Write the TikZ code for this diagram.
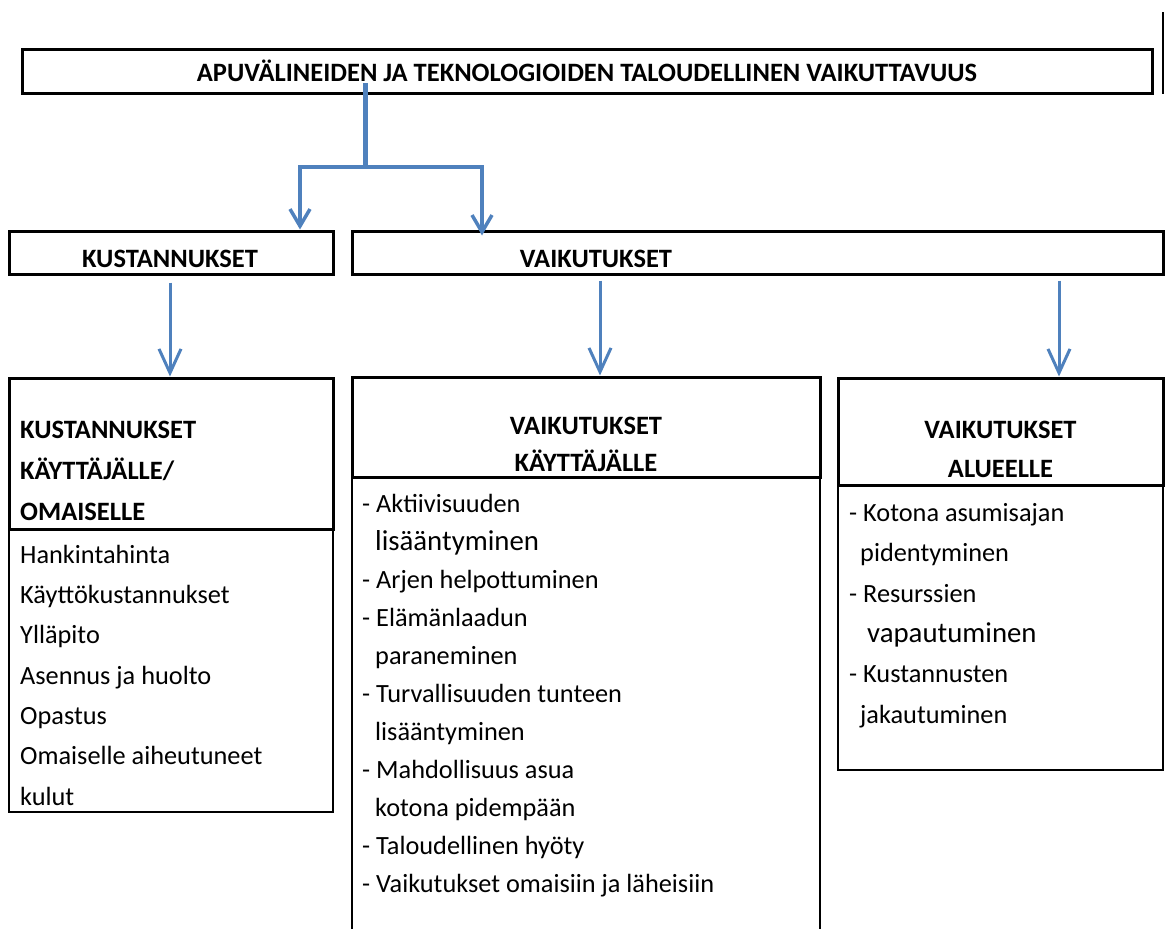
\documentclass[tikz,border=0pt]{standalone}
\usepackage{fontspec}
\setmainfont{Carlito}
\usetikzlibrary{arrows.meta,positioning}
\definecolor{arrblue}{RGB}{79,129,189}
\newcommand{\ind}{\hspace*{13pt}}
\begin{document}
\begin{tikzpicture}[x=1pt,y=-1pt,
  box/.style={draw,line width=3pt,inner sep=0},
  listbox/.style={draw,line width=1.7pt,inner sep=0},
  head/.style={font=\bfseries\fontsize{26.5}{41}\selectfont,inner sep=0},
  item/.style={font=\fontsize{26.3}{40.3}\selectfont,align=left,inner sep=0,anchor=base west},
  arr/.style={draw=arrblue,line width=3pt,-{Straight Barb[length=24pt,width=22pt]}},
  branch/.style={draw=arrblue,line width=3.5pt,-{Straight Barb[length=17pt,width=20pt]}}]
\useasboundingbox (0,0) rectangle (1165,929);
\clip (0,0) rectangle (1165,929);
% top row
\node[box,minimum width=1130pt,minimum height=44pt](title) at (587,71){};
\node[head,anchor=base](titleT) at (587,81){APUVÄLINEIDEN JA TEKNOLOGIOIDEN TALOUDELLINEN VAIKUTTAVUUS};
\draw[line width=2.7pt](1163,12) -- (1163,94);
% second row
\node[box,minimum width=324pt,minimum height=43pt](kust) at (171,252.5){};
\node[box,minimum width=811pt,minimum height=43pt](vaik) at (757.5,252.5){};
\node[head,anchor=base](kustT) at (170,267){KUSTANNUKSET};
\node[head,anchor=base](vaikT) at (596,267){VAIKUTUKSET};
% list boxes
\node[listbox,minimum width=324pt,minimum height=283pt](kustB) at (171,670.5){};
\node[listbox,minimum width=468pt,minimum height=483pt](vaikB) at (586,718.5){};
\node[listbox,minimum width=325pt,minimum height=285pt](alueB) at (1000.5,627.5){};
% header boxes
\node[box,minimum width=324pt,minimum height=151pt](kustA) at (171,453.5){};
\node[box,minimum width=468pt,minimum height=100pt](vaikA) at (586,427){};
\node[box,minimum width=325pt,minimum height=107pt](alueA) at (1000.5,431.5){};
% (base = last line)
\node[head,align=left,anchor=base west](kustAT) at (20,520){KUSTANNUKSET\\KÄYTTÄJÄLLE/\\OMAISELLE};
\node[head,align=center,anchor=base,font=\bfseries\fontsize{26.5}{37}\selectfont](vaikAT) at (586,471){VAIKUTUKSET\\KÄYTTÄJÄLLE};
\node[head,align=center,anchor=base,font=\bfseries\fontsize{26.5}{39}\selectfont](alueAT) at (1000.5,477){VAIKUTUKSET\\ALUEELLE};
% list texts
\node[item](kustL) at (20,805){Hankintahinta\\Käyttökustannukset\\Ylläpito\\Asennus ja huolto\\Opastus\\Omaiselle aiheutuneet\\kulut};
\node[item,font=\fontsize{26.3}{38}\selectfont](vaikL) at (362,892){- Aktiivisuuden\\
  \ind{\fontsize{28.8}{38}\selectfont lisääntyminen}\\
  - Arjen helpottuminen\\
  - Elämänlaadun\\
  \ind paraneminen\\
  - Turvallisuuden tunteen\\
  \ind lisääntyminen\\
  - Mahdollisuus asua\\
  \ind kotona pidempään\\
  - Taloudellinen hyöty\\
  - Vaikutukset omaisiin ja läheisiin};
\node[item](alueL) at (849,723){- Kotona asumisajan\\
  \hspace*{11pt}pidentyminen\\
  - Resurssien\\
  \hspace*{18pt}{\fontsize{28.8}{40.3}\selectfont vapautuminen}\\
  - Kustannusten\\
  \hspace*{11pt}jakautuminen};
% connectors
\coordinate(stem) at (365,83);
\coordinate(split) at (365,167);
\draw[arrblue,line width=5pt](stem) -- (split);
\draw[branch](split) -| ([xshift=129pt]kust.north);
\draw[branch](split) -| ([xshift=-275.5pt,yshift=-6pt]vaik.north);
\draw[arr]([xshift=-1pt,yshift=-7pt]kust.south) -- ([xshift=-1pt]kustA.north);
\draw[arr]([xshift=-157.5pt,yshift=-5pt]vaik.south) -- ([xshift=14pt]vaikA.north);
\draw[arr]([xshift=301.5pt,yshift=-5pt]vaik.south) -- ([xshift=58.5pt]alueA.north);
\end{tikzpicture}
\end{document}
